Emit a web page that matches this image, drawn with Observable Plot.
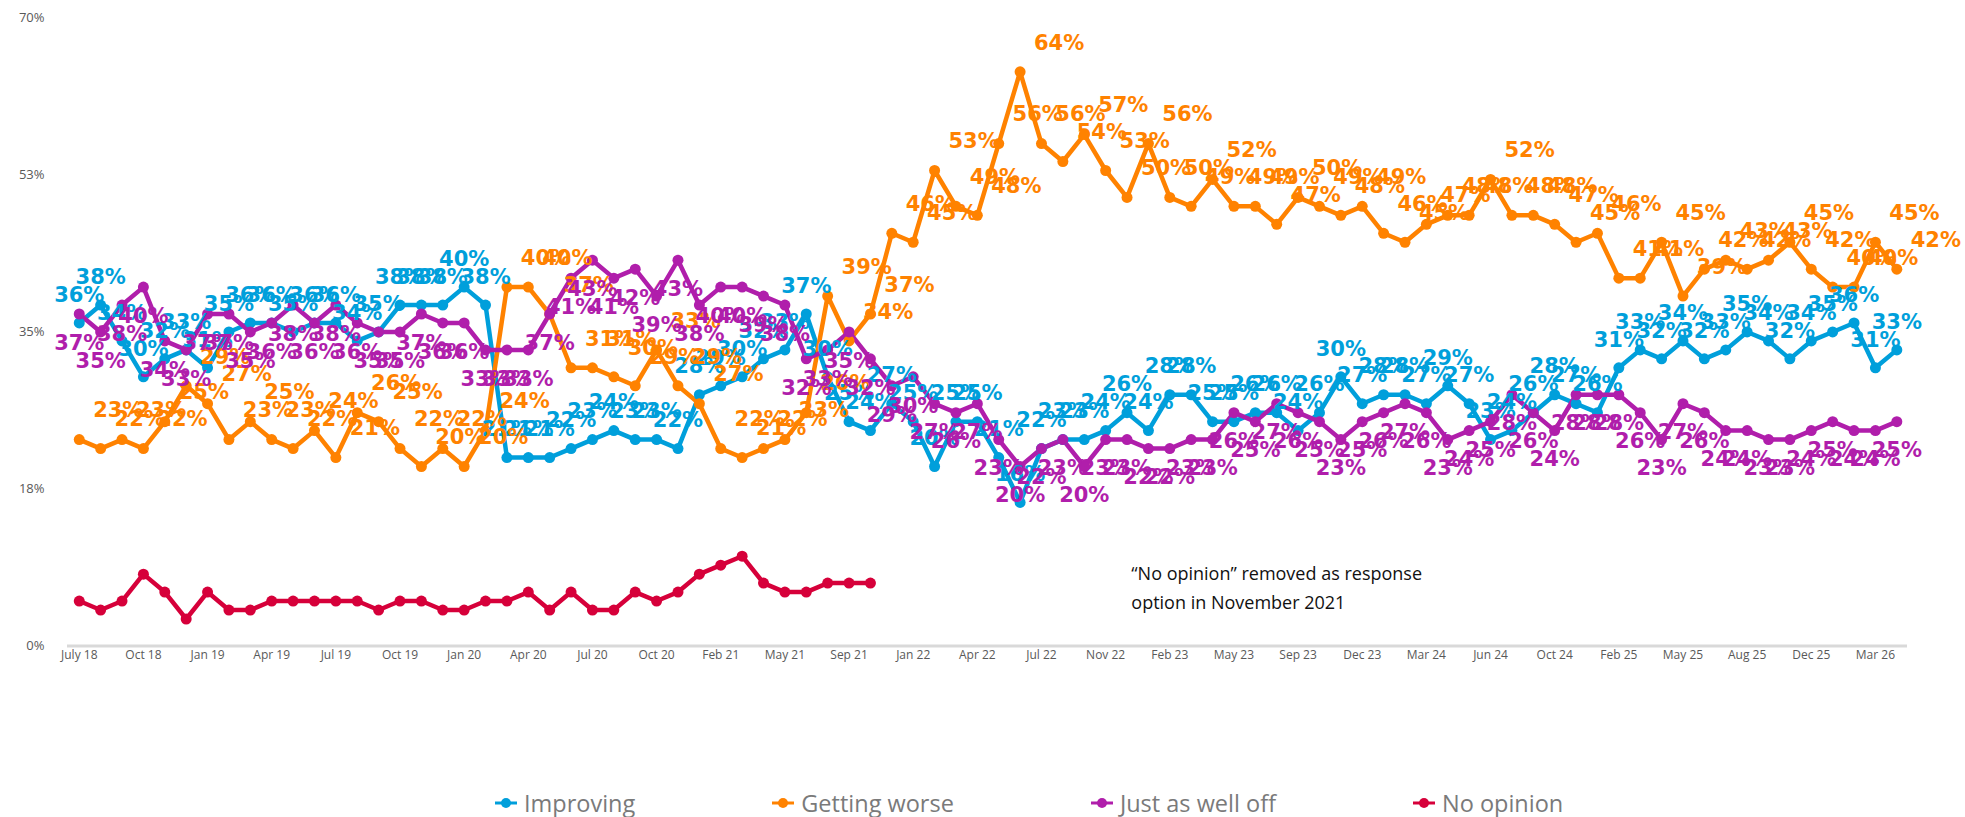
<!DOCTYPE html>
<html><head><meta charset="utf-8">
<script src="https://cdn.jsdelivr.net/npm/d3@7"></script>
<script src="https://cdn.jsdelivr.net/npm/@observablehq/plot@0.6"></script>
<style>
body{margin:0;background:#fff;width:1965px;height:817px;overflow:hidden;position:relative;font-family:"Open Sans",sans-serif}
#legend{position:absolute;top:784px;left:495px;display:flex;gap:137px;align-items:center}
.item{display:flex;align-items:center;gap:7px;font-size:23.5px;color:#7a7a7a;line-height:38px}
</style></head><body><div id="chart"></div><div id="legend"></div>
<script>
const seriesNames = ["Improving","Getting worse","Just as well off","No opinion"];
const seriesColors = ["#009FDB","#FF8200","#B01EAB","#D6003A"];
const tickLabels = ["July 18","Oct 18","Jan 19","Apr 19","Jul 19","Oct 19","Jan 20","Apr 20","Jul 20","Oct 20","Feb 21","May 21","Sep 21","Jan 22","Apr 22","Jul 22","Nov 22","Feb 23","May 23","Sep 23","Dec 23","Mar 24","Jun 24","Oct 24","Feb 25","May 25","Aug 25","Dec 25","Mar 26"];
const yTicks = [0,17.5,35,52.5,70];

const improving = [36,38,34,30,32,33,31,35,36,36,35,36,36,34,35,
  38,38,38,40,38,21,21,21,22,23,24,23,23,22,28,
  29,30,32,33,37,30,25,24,27,25,20,25,25,21,16,
  22,23,23,24,26,24,28,28,25,25,26,26,24,26,30,
  27,28,28,27,29,27,23,24,26,28,27,26,31,33,32,
  34,32,33,35,34,32,34,35,36,31,33];
const gettingWorse = [23,22,23,22,25,29,27,23,25,23,22,24,21,26,25,
  22,20,22,20,24,40,40,37,31,31,30,29,33,29,27,
  22,21,22,23,26,39,34,37,46,45,53,49,48,56,64,
  56,54,57,53,50,56,50,49,52,49,49,47,50,49,48,
  49,46,45,47,48,48,52,48,48,47,45,46,41,41,45,
  39,42,43,42,43,45,42,40,40,45,42];
const justAsWell = [37,35,38,40,34,33,37,37,35,36,38,36,38,36,35,
  35,37,36,36,33,33,33,37,41,43,41,42,39,43,38,
  40,40,39,38,32,33,35,32,29,30,27,26,27,23,20,
  22,23,20,23,23,22,22,23,23,26,25,27,26,25,23,
  25,26,27,26,23,24,25,28,26,24,28,28,28,26,23,
  27,26,24,24,23,23,24,25,24,24,25];
const noOpinion = [5,4,5,8,6,3,6,4,4,5,5,5,5,5,4,
  5,5,4,4,5,5,6,4,6,4,4,6,5,6,8,
  9,10,7,6,6,7,7,7];
const noteText = "\u201CNo opinion\u201D removed as response\noption in November 2021";
const note = [{i: 49.2, v: 6.8, text: noteText}];

const seriesValues = [improving, gettingWorse, justAsWell, noOpinion];
const rows = [];
seriesNames.forEach((s, k) => seriesValues[k].forEach((v, i) => rows.push({i, v, s})));
const of = s => rows.filter(d => d.s === s);
const tickIdx = tickLabels.map((_, k) => k * 3);

const labelStyle = {x: "i", y: "v", text: d => d.v + "%", fontSize: 21, fontWeight: "bold", fontFamily: "DejaVu Sans"};

const chart = Plot.plot({
  width: 1965,
  height: 700,
  marginLeft: 67,
  marginRight: 58,
  marginTop: 17.5,
  marginBottom: 54.6,
  style: {fontFamily: "'Open Sans', sans-serif", background: "#fff", overflow: "visible"},
  x: {type: "linear", domain: [-0.55, 85.5], axis: null, label: null},
  y: {domain: [0, 70], axis: null, label: null},
  color: {domain: seriesNames, range: seriesColors},
  marks: [
    Plot.ruleY([0], {stroke: "#d9d9d9", strokeWidth: 3}),
    Plot.axisX(tickIdx, {label: null, tickFormat: d => tickLabels[d / 3], tickSize: 0, tickPadding: 5, fontSize: 12, fill: "#595959"}),
    Plot.axisY(yTicks, {label: null, tickFormat: d => Math.round(d) + "%", tickSize: 0, tickPadding: 23, fontSize: 13, fill: "#595959"}),
    Plot.line(rows, {x: "i", y: "v", z: "s", stroke: "s", strokeWidth: 4.5, strokeLinejoin: "round"}),
    Plot.dot(rows, {x: "i", y: "v", fill: "s", r: 5.5}),
    Plot.text(of("Improving"), {...labelStyle, fill: seriesColors[0], dy: -28}),
    Plot.text(of("Getting worse"), {...labelStyle, fill: seriesColors[1], dx: 39, dy: -29}),
    Plot.text(of("Just as well off"), {...labelStyle, fill: seriesColors[2], dy: 29}),
    Plot.text(note, {x: "i", y: "v", text: "text", textAnchor: "start", lineHeight: 1.65, fontSize: 18, fill: "#111", fontFamily: "'Open Sans', sans-serif"})
  ]
});
document.getElementById("chart").appendChild(chart);

const legend = document.getElementById("legend");
seriesNames.forEach((s, k) => {
  const it = document.createElement("div");
  it.className = "item";
  it.innerHTML = `<svg width="22" height="14"><line x1="0" y1="7" x2="22" y2="7" stroke="${seriesColors[k]}" stroke-width="3"/><circle cx="11" cy="7" r="5" fill="${seriesColors[k]}"/></svg><span>${s}</span>`;
  legend.appendChild(it);
});
</script>
</body></html>
